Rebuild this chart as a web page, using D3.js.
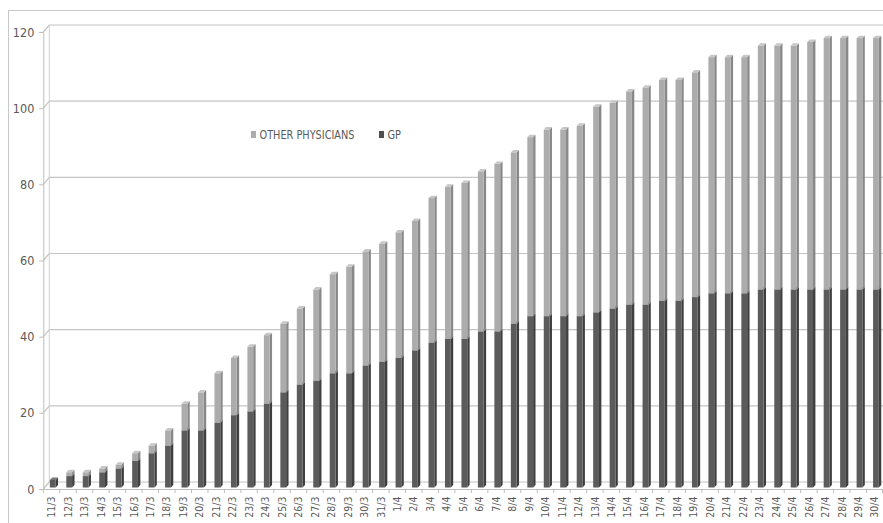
<!DOCTYPE html>
<html><head><meta charset="utf-8">
<script src="https://cdn.jsdelivr.net/npm/d3@7"></script>
<style>
html,body{margin:0;padding:0;background:#fff;}
svg{display:block;}
text{font-family:"Liberation Sans Narrow","Arial Narrow","DejaVu Sans Condensed",sans-serif;fill:#595959;}
</style></head>
<body>
<svg id="chart" width="883" height="523"></svg>
<script>
const categories = ["11/3","12/3","13/3","14/3","15/3","16/3","17/3","18/3","19/3","20/3","21/3","22/3","23/3","24/3","25/3","26/3","27/3","28/3","29/3","30/3","31/3",
"1/4","2/4","3/4","4/4","5/4","6/4","7/4","8/4","9/4","10/4","11/4","12/4","13/4","14/4","15/4","16/4","17/4","18/4","19/4","20/4","21/4","22/4","23/4","24/4","25/4","26/4","27/4","28/4","29/4","30/4"];
const gp = [2,3,3,4,5,7,9,11,15,15,17,19,20,22,25,27,28,30,30,32,33,
34,36,38,39,39,41,41,43,45,45,45,45,46,47,48,48,49,49,50,51,51,51,52,52,52,52,52,52,52,52];
const otherPhysicians = [0,1,1,1,1,2,2,4,7,10,13,15,17,18,18,20,24,26,28,30,31,
33,34,38,40,41,42,44,45,47,49,49,50,54,54,56,57,58,58,59,62,62,62,64,64,64,65,66,66,66,66];
const yTicks = [0,20,40,60,80,100,120];
const seriesNames = ["GP","OTHER PHYSICIANS"];

const FONT = '"Liberation Sans Narrow","Arial Narrow","DejaVu Sans Condensed",sans-serif';
const svg = d3.select("#chart");
svg.append("rect").attr("x",8.5).attr("y",10.5).attr("width",900).attr("height",540)
  .attr("fill","none").attr("stroke","#c8c8c8");

const x0 = 43.3, x1 = 883;
const yBase = 489, yTop = 32;
const x = d3.scaleBand().domain(categories).range([x0, x1]).paddingInner(0).paddingOuter(0);
const y = d3.scaleLinear().domain([0,120]).range([yBase, yTop]);
const backDX = 6, backDY = -7;

const grid = svg.append("g");
yTicks.forEach(t => {
  const yy = y(t);
  grid.append("line").attr("x1",x0).attr("y1",yy).attr("x2",x0+backDX).attr("y2",yy+backDY)
    .attr("stroke","#c4c4c4").attr("stroke-width",1.2);
  grid.append("line").attr("x1",x0+backDX).attr("y1",yy+backDY).attr("x2",x1).attr("y2",yy+backDY)
    .attr("stroke","#c4c4c4").attr("stroke-width",1.2);
});
grid.append("line").attr("x1",x0+backDX).attr("y1",y(0)+backDY).attr("x2",x0+backDX).attr("y2",y(120)+backDY)
  .attr("stroke","#d0d0d0");

const yAxis = d3.axisLeft(y).tickValues(yTicks).tickSize(4).tickPadding(5);
const gy = svg.append("g").attr("transform",`translate(${x0},0)`).call(yAxis);
gy.select(".domain").attr("stroke","#bdbdbd");
gy.selectAll(".tick line").attr("stroke","#bdbdbd");
gy.selectAll(".tick text").attr("font-size","12.5px").attr("fill","#595959").style("font-family",FONT);

const xAxis = d3.axisBottom(x).tickSize(0).tickPadding(0);
const gx = svg.append("g").attr("transform",`translate(0,${yBase})`).call(xAxis);
gx.select(".domain").attr("stroke","#bdbdbd");
gx.selectAll(".tick text")
  .attr("transform","rotate(-90)")
  .attr("text-anchor","end")
  .attr("x",-7.5).attr("y",0).attr("dy","0.35em")
  .attr("font-size","10.5px").attr("fill","#606060").style("font-family",FONT);
gx.selectAll(".bound").data(categories).enter().append("line")
  .attr("x1",d=>x(d)).attr("x2",d=>x(d)).attr("y1",0).attr("y2",4).attr("stroke","#bdbdbd");
gx.append("line").attr("x1",x1-0.5).attr("x2",x1-0.5).attr("y1",0).attr("y2",4).attr("stroke","#bdbdbd");

const rows = categories.map((c,i)=>({cat:c, "GP":gp[i], "OTHER PHYSICIANS":otherPhysicians[i]}));
const stack = d3.stack().keys(seriesNames)(rows);
const colors = {
  "GP": {front:"#5b5b5b", side:"#3e3e3e", top:"#777777"},
  "OTHER PHYSICIANS": {front:"#acacac", side:"#888888", top:"#c6c6c6"}
};
const fw = 5.8, dx = 2.4, dy = -2.4, offX = 1.2, offY = -1.5;
const bars = svg.append("g");
stack.forEach(layer => {
  const col = colors[layer.key];
  layer.forEach((d,i) => {
    if (d[1] - d[0] <= 0) return;
    const cx = x(categories[i]) + x.bandwidth()/2 + offX;
    const xl = cx - fw/2, xr = cx + fw/2;
    const yb = y(d[0]) + offY, yt = y(d[1]) + offY;
    const g = bars.append("g");
    g.append("path").attr("d",`M${xr},${yt}L${xr+dx},${yt+dy}L${xr+dx},${yb+dy}L${xr},${yb}Z`)
      .attr("fill",col.side);
    g.append("rect").attr("x",xl).attr("y",yt).attr("width",fw).attr("height",yb-yt)
      .attr("fill",col.front);
    g.append("path").attr("d",`M${xl},${yt}L${xl+dx},${yt+dy}L${xr+dx},${yt+dy}L${xr},${yt}Z`)
      .attr("fill",col.top);
  });
});

const legend = svg.append("g");
const legItems = [{name:"OTHER PHYSICIANS", color:"#acacac", x:251, len:95},{name:"GP", color:"#4f4f4f", x:379, len:13.5}];
legItems.forEach(it=>{
  legend.append("rect").attr("x",it.x).attr("y",131).attr("width",5).attr("height",7).attr("fill",it.color);
  legend.append("text").attr("x",it.x+8.5).attr("y",138.9).attr("font-size","13px").attr("fill","#555")
    .attr("textLength",it.len).attr("lengthAdjust","spacingAndGlyphs").text(it.name);
});
</script>
</body></html>
